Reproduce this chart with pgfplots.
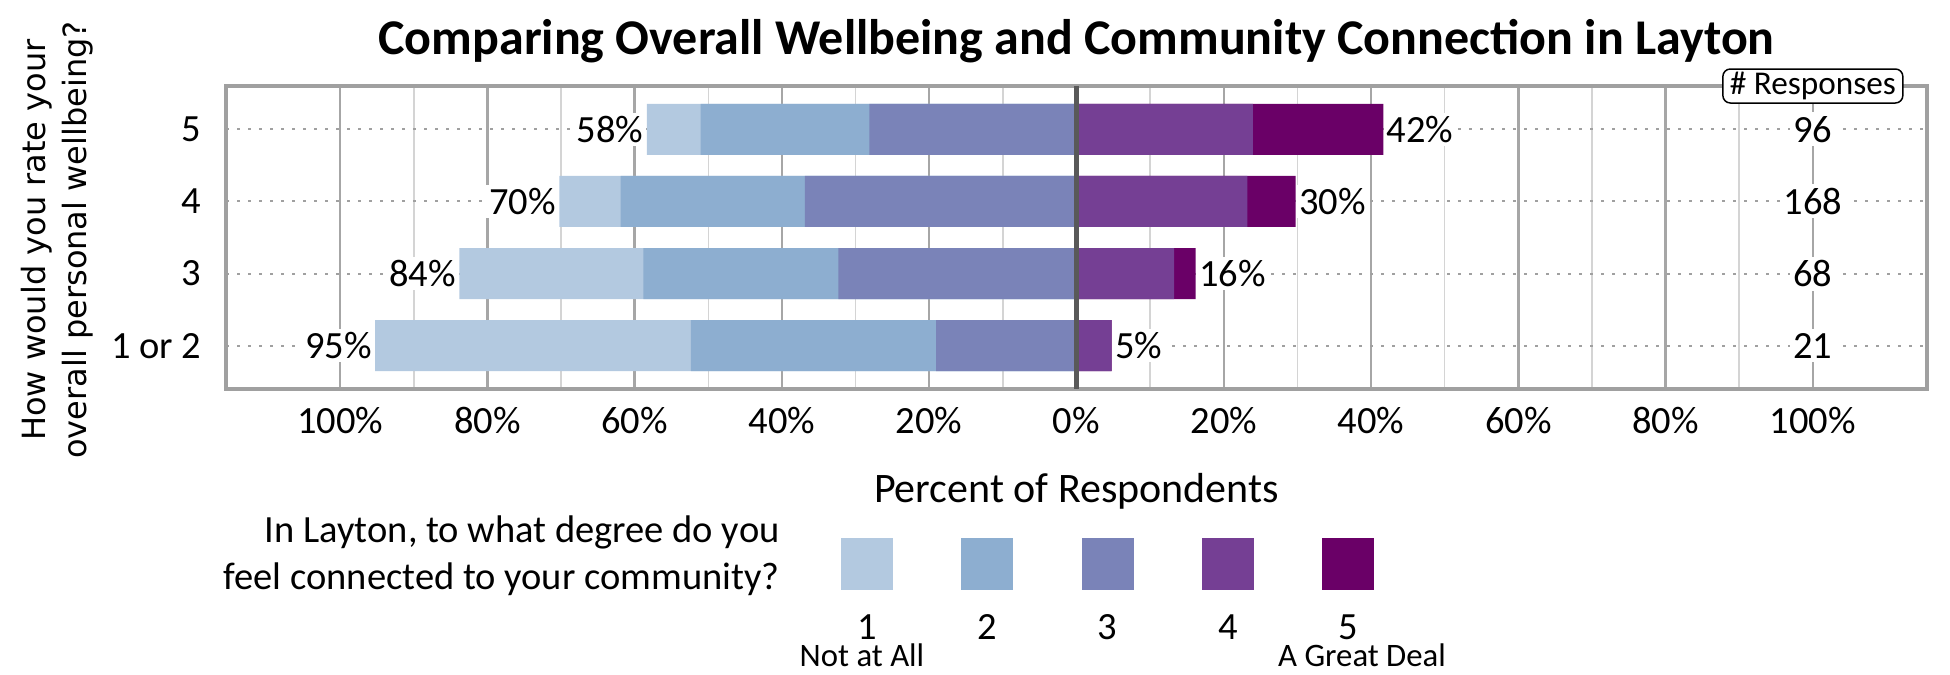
\documentclass[border=0pt]{standalone}
\usepackage{pgfplots}
\pgfplotsset{compat=1.18}
\usepackage{fontspec}
\setmainfont{Carlito}
\newfontfamily\vfont{DejaVu Sans}

\definecolor{c1}{RGB}{179,201,224}
\definecolor{c2}{RGB}{141,174,208}
\definecolor{c3}{RGB}{122,131,184}
\definecolor{c4}{RGB}{117,63,148}
\definecolor{c5}{RGB}{106,0,103}
\definecolor{framegray}{RGB}{160,160,160}
\definecolor{majgray}{RGB}{166,166,166}
\definecolor{mingray}{RGB}{212,212,212}
\definecolor{zerogray}{RGB}{89,89,89}
\definecolor{dotgray}{RGB}{160,160,160}

\newcommand{\lbl}{\fontsize{15.4}{18}\selectfont}

\begin{document}
\begin{tikzpicture}
\begin{axis}[
  at={(90.4pt,114.4pt)}, anchor=south west,
  scale only axis, width=680.4pt, height=121.2pt,
  xbar, bar width=20.4pt,
  xmin=-115.5, xmax=115.5, ymin=-0.6, ymax=3.6,
  xtick={-100,-80,...,100},
  xticklabels={100\%,80\%,60\%,40\%,20\%,0\%,20\%,40\%,60\%,80\%,100\%},
  minor x tick num=1,
  ytick={0,1,2,3}, yticklabels={1 or 2,3,4,5},
  xmajorgrids, xminorgrids, ymajorgrids,
  major x grid style={majgray, line width=1pt},
  minor x grid style={mingray, line width=0.6pt},
  y grid style={dotgray, line width=0.8pt, dash pattern=on 1.3pt off 3.1pt},
  major tick length=0pt, minor tick length=0pt,
  axis line style={framegray, line width=1.6pt},
  tick label style={font=\lbl},
  xticklabel style={anchor=base, yshift=-18pt, inner sep=0pt},
  yticklabel style={anchor=east, inner sep=0pt, xshift=-9.6pt},
  every axis plot/.append style={draw=none, bar shift=0pt},
  clip=false,
]
% cumulative bar ends from zero (1 or 2, 3, 4, 5); shorter bars lie on top
% left side: connection 1+2+3, 2+3, 3
\addplot[fill=c1] coordinates {(-95.24,0) (-83.82,1) (-70.23,2) (-58.34,3)};
\addplot[fill=c2] coordinates {(-52.38,0) (-58.82,1) (-61.90,2) (-51.05,3)};
\addplot[fill=c3] coordinates {(-19.05,0) (-32.35,1) (-36.90,2) (-28.13,3)};
% right side: connection 4+5, 4
\addplot[fill=c5] coordinates {(4.76,0) (16.18,1) (29.76,2) (41.67,3)};
\addplot[fill=c4] coordinates {(4.76,0) (13.24,1) (23.21,2) (23.96,3)};

\draw[zerogray, line width=2pt] (axis cs:0,-0.6) -- (axis cs:0,3.6);

\begin{scope}[every node/.style={font=\lbl, fill=white, inner sep=1.2pt}]
\node[anchor=east] at (axis cs:-58.34,3) {58\%};
\node[anchor=east] at (axis cs:-70.23,2) {70\%};
\node[anchor=east] at (axis cs:-83.82,1) {84\%};
\node[anchor=east] at (axis cs:-95.24,0) {95\%};
\node[anchor=west] at (axis cs:41.67,3) {42\%};
\node[anchor=west] at (axis cs:29.76,2) {30\%};
\node[anchor=west] at (axis cs:16.18,1) {16\%};
\node[anchor=west] at (axis cs:4.76,0) {5\%};
\node[inner sep=1.5pt] at (axis cs:100,3) {96};
\node[inner sep=1.5pt] at (axis cs:100,2) {168};
\node[inner sep=1.5pt] at (axis cs:100,1) {68};
\node[inner sep=1.5pt] at (axis cs:100,0) {21};
\end{scope}
\node[draw=black, rounded corners=3pt, fill=white, line width=0.6pt,
  minimum width=72pt, minimum height=13.6pt, inner sep=0pt,
  font=\fontsize{13.3}{16}\selectfont] at (axis cs:100,3.6) {\# Responses};
\end{axis}

% legend swatches
\begin{axis}[
  at={(322.7pt,34pt)}, anchor=south west,
  scale only axis, width=240.6pt, height=20.8pt,
  xmin=0.5, xmax=5.5, ymin=0, ymax=1,
  ybar, bar width=20.8pt,
  axis line style={draw=none}, major tick length=0pt,
  ytick=\empty, xtick={1,2,3,4,5}, xticklabels={1,2,3,4,5},
  xticklabel style={anchor=base, yshift=-20pt, inner sep=0pt, font=\lbl},
  every axis plot/.append style={draw=none, bar shift=0pt},
  clip=false,
]
\addplot[fill=c1] coordinates {(1,1)};
\addplot[fill=c2] coordinates {(2,1)};
\addplot[fill=c3] coordinates {(3,1)};
\addplot[fill=c4] coordinates {(4,1)};
\addplot[fill=c5] coordinates {(5,1)};
\end{axis}

\node[anchor=base, inner sep=0pt, font=\fontsize{20}{24}\selectfont\bfseries]
  at (430.6pt,248pt) {Comparing Overall Wellbeing and Community Connection in Layton};
\node[anchor=base, inner sep=0pt, font=\fontsize{16.8}{20}\selectfont]
  at (430.6pt,68.8pt) {Percent of Respondents};
\node[rotate=90, anchor=base, inner sep=0pt, font=\vfont\fontsize{12.8}{15}\selectfont]
  at (18pt,174pt) {How would you rate your};
\node[rotate=90, anchor=base, inner sep=0pt, font=\vfont\fontsize{12.8}{15}\selectfont]
  at (34.7pt,174pt) {overall personal wellbeing?};
\node[anchor=base east, inner sep=0pt, font=\lbl] at (312pt,52.8pt) {In Layton, to what degree do you};
\node[anchor=base east, inner sep=0pt, font=\lbl] at (312pt,34pt) {feel connected to your community?};
\node[anchor=base, inner sep=0pt, font=\fontsize{13.1}{16}\selectfont] at (344.8pt,3.2pt) {Not at All};
\node[anchor=base, inner sep=0pt, font=\fontsize{13.1}{16}\selectfont] at (544.8pt,3.2pt) {A Great Deal};

\pgfresetboundingbox
\useasboundingbox (0,0) rectangle (780pt,270pt);
\end{tikzpicture}
\end{document}
